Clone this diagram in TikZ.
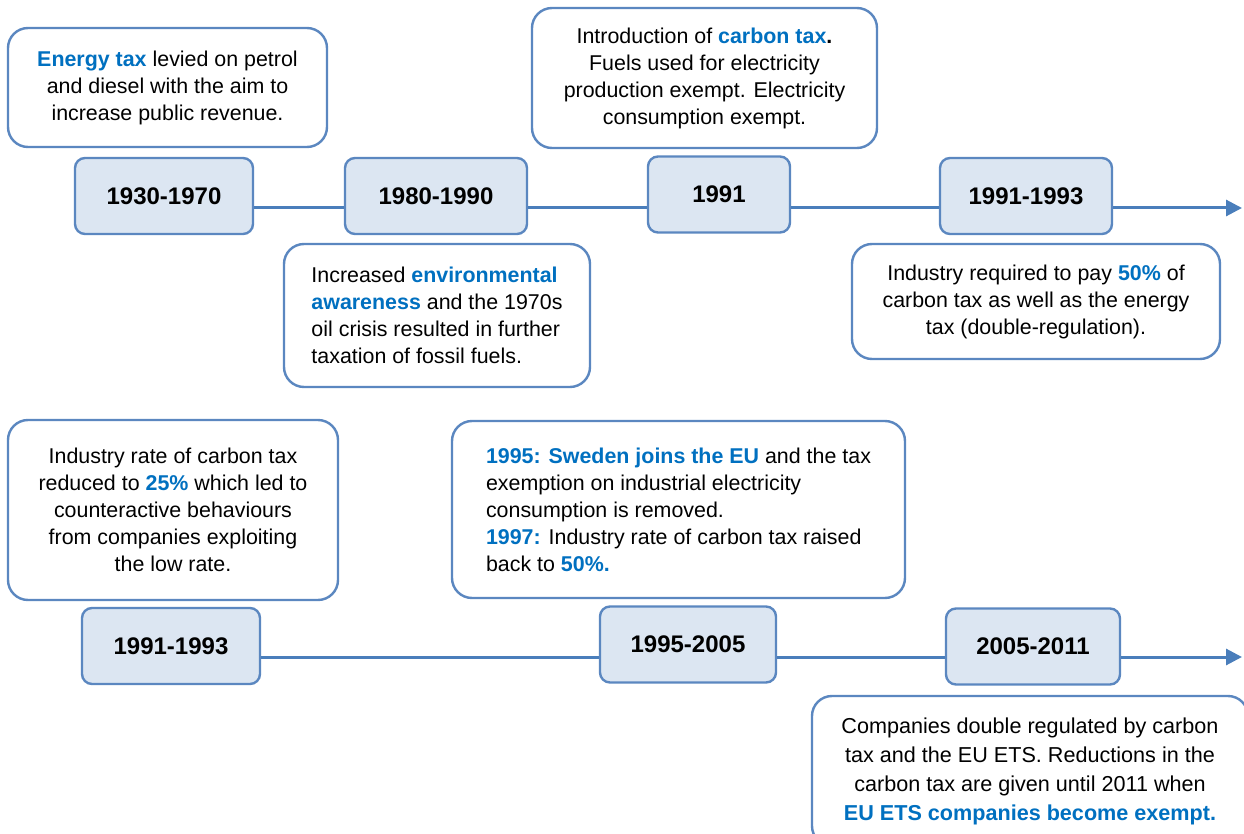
\documentclass[tikz,border=0pt]{standalone}
\usepackage{fontspec}
\setmainfont{Liberation Sans}
\usetikzlibrary{arrows.meta}

\definecolor{edgeblue}{HTML}{5B87C0}
\definecolor{lineblue}{HTML}{4A7EBB}
\definecolor{yearfill}{HTML}{DCE6F2}
\definecolor{hlblue}{HTML}{0070C0}
\newcommand{\hl}[1]{\textcolor{hlblue}{\textbf{#1}}}

\tikzset{
    note/.style={draw=edgeblue, line width=1.2pt, rounded corners=10pt, fill=white,
        inner sep=0pt, align=center, font=\fontsize{10.7}{13.5}\selectfont},
    yearbox/.style={draw=edgeblue, line width=1.2pt, rounded corners=5pt, fill=yearfill,
        inner sep=0pt, minimum height=38pt, font=\fontsize{12}{14}\selectfont\bfseries},
    tl/.style={draw=lineblue, line width=1.5pt}
}

\begin{document}
\begin{tikzpicture}[x=0.5pt, y=-0.5pt]

            \clip (0,0) rectangle (1244,834);
            \useasboundingbox (0,0) rectangle (1244,834);

            % year boxes
            \foreach \n/\x/\y/\w/\t in {ya/164/196/89/1930-1970, yb/436/196/91/1980-1990,
                yc/719/194.5/71/1991, yd/1026/196/86/1991-1993,
                ye/171/646/89/1991-1993, yf/688/644.5/88/1995-2005, yg/1033/646.5/87/2005-2011}
            {
                \node[yearbox, minimum width=\w pt] (\n) at (\x,\y) {\t};
            }

            % timelines
            \coordinate (enda) at (1242,208);
            \coordinate (endb) at (1242,657);
            \draw[tl] (ya.east |- enda) -- (yb.west |- enda);
            \draw[tl] (yb.east |- enda) -- (yc.west |- enda);
            \draw[tl] (yc.east |- enda) -- (yd.west |- enda);
            \draw[tl, -{Triangle[length=8pt, width=8pt]}] (yd.east |- enda) -- (enda);
            \draw[tl] (ye.east |- endb) -- (yf.west |- endb);
            \draw[tl] (yf.east |- endb) -- (yg.west |- endb);
            \draw[tl, -{Triangle[length=8pt, width=8pt]}] (yg.east |- endb) -- (endb);

            % notes
            \node[note, minimum width=159.5pt, minimum height=59.5pt] (na) at (167.5,87.5)
                {\hl{Energy tax} levied on petrol\\and diesel with the aim to\\increase public revenue.};
            \node[note, align=left, minimum width=153pt, minimum height=71.5pt] (nb) at (437,315.5)
                {Increased \hl{environmental}\\\hl{awareness} and the 1970s\\oil crisis resulted in further\\taxation of fossil fuels.};
            \node[note, minimum width=172.5pt, minimum height=70pt] (nc) at (704.5,78)
                {Introduction of \hl{carbon tax}\textbf{.}\\Fuels used for electricity\\production exempt. Electricity\\consumption exempt.};
            \node[note, minimum width=184pt, minimum height=57.5pt] (nd) at (1036,301.5)
                {Industry required to pay \hl{50\%} of\\carbon tax as well as the energy\\tax (double-regulation).};
            \node[note, minimum width=165pt, minimum height=90pt] (ne) at (173,510)
                {Industry rate of carbon tax\\reduced to \hl{25\%} which led to\\counteractive behaviours\\from companies exploiting\\the low rate.};
            \node[note, align=left, minimum width=226.5pt, minimum height=88.5pt] (nf) at (678.5,509.5)
                {\hl{1995: Sweden joins the EU} and the tax\\exemption on industrial electricity\\consumption is removed.\\\hl{1997:} Industry rate of carbon tax raised\\back to \hl{50\%.}};
            \node[note, minimum width=218pt, minimum height=75pt, font=\fontsize{10.8}{14.5}\selectfont] (ng) at (1030,771)
                {Companies double regulated by carbon\\tax and the EU ETS. Reductions in the\\carbon tax are given until 2011 when\\\hl{EU ETS companies become exempt.}};

\end{tikzpicture}
\end{document}
